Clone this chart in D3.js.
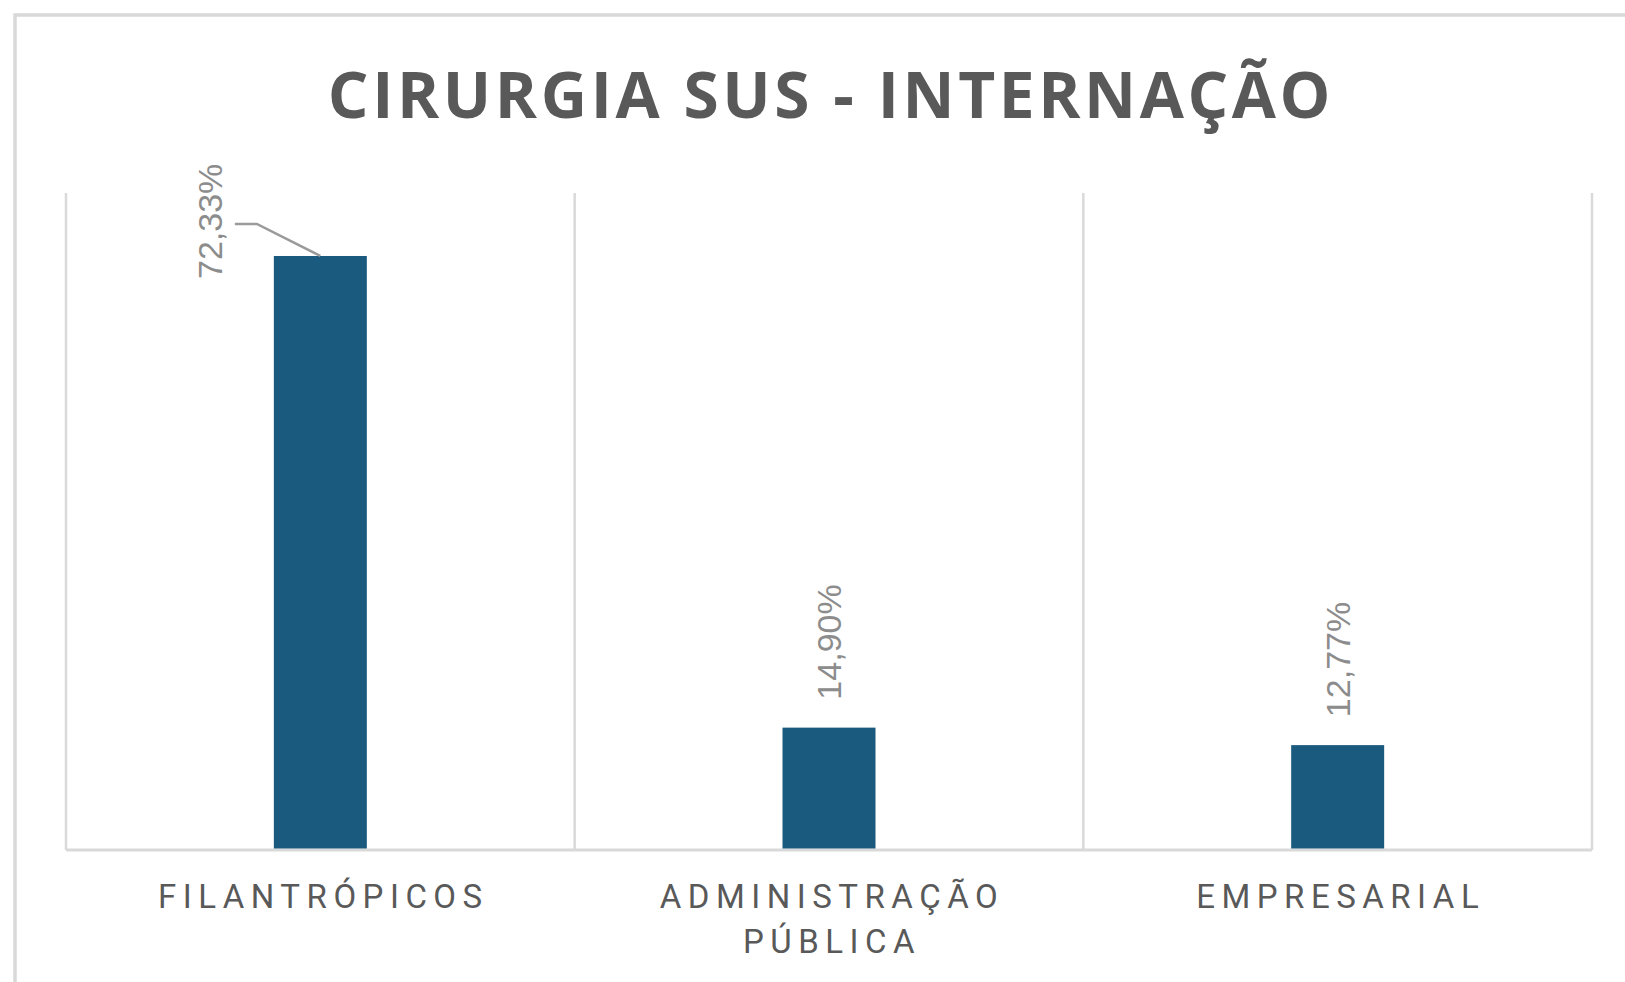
<!DOCTYPE html>
<html>
<head>
<meta charset="utf-8">
<script src="https://cdn.jsdelivr.net/npm/d3@7"></script>
<style>
  body { margin: 0; background: #fff; }
  svg { display: block; }
</style>
</head>
<body>
<svg></svg>
<script>
const width = 1625;
const height = 982;

// chart data
const title = 'CIRURGIA SUS - INTERNAÇÃO';
const categories = ['FILANTRÓPICOS', 'ADMINISTRAÇÃO PÚBLICA', 'EMPRESARIAL'];
const values = [72.33, 14.90, 12.77];
const yDomain = [0, 80];

const margin = {top: 193, right: 33, bottom: 132, left: 66};

const svg = d3.select('svg')
    .attr('width', width).attr('height', height);

const ptBR = d3.formatLocale({decimal: ',', thousands: '.', grouping: [3], currency: ['R$', '']});
const fmt = v => ptBR.format('.2f')(v) + '%';

const x = d3.scaleBand()
    .domain(categories)
    .range([margin.left, width - margin.right]);

const y = d3.scaleLinear()
    .domain(yDomain)
    .range([height - margin.bottom, margin.top]);

const barWidth = x.bandwidth() / 5.47;
const grey = '#d9d9d9';

drawFrame();
drawTitle();
drawGrid();
drawBars();
drawLabels();
drawCategories();

function drawFrame() {
    // chart border, right and bottom edges run off the picture
    svg.append('rect')
        .attr('x', 15).attr('y', 15)
        .attr('width', width).attr('height', height)
        .style('fill', '#fff')
        .style('stroke', grey)
        .style('stroke-width', 3.5);
}

function drawTitle() {
    svg.append('text')
        .attr('x', (x.range()[0] + x.range()[1]) / 2 + 2)
        .attr('y', 118)
        .attr('text-anchor', 'middle')
        .style('font-family', '"Open Sans", sans-serif')
        .style('font-weight', 700)
        .style('font-size', '64px')
        .style('letter-spacing', '3.6px')
        .style('fill', '#595959')
        .text(title);
}

function drawGrid() {
    // vertical separators between categories
    const edges = categories.map(c => x(c)).concat([x.range()[1]]);
    svg.append('g').selectAll('line')
        .data(edges)
        .enter().append('line')
        .attr('x1', d => d).attr('x2', d => d)
        .attr('y1', y.range()[1]).attr('y2', y(0))
        .style('stroke', grey)
        .style('stroke-width', 2.5);

    svg.append('line')
        .attr('x1', x.range()[0]).attr('x2', x.range()[1])
        .attr('y1', y(0)).attr('y2', y(0))
        .style('stroke', grey)
        .style('stroke-width', 3);
}

function drawBars() {
    svg.append('g').selectAll('rect')
        .data(values)
        .enter().append('rect')
        .attr('x', (d, i) => x(categories[i]) + x.bandwidth() / 2 - barWidth / 2)
        .attr('y', d => y(d))
        .attr('width', barWidth)
        .attr('height', d => y(0) - y(d) - 1.5)
        .style('fill', '#1a5a7e');
}

function drawLabels() {
    const g = svg.append('g');
    values.forEach((v, i) => {
        const cx = x(categories[i]) + x.bandwidth() / 2;
        const top = y(v);
        let lx = cx, ly = top - 28;
        // label would run past the plot top: move it left of the bar with a leader
        if (ly - 115 < y.range()[1]) {
            lx = cx - barWidth / 2 - 64;
            ly = top + 23;
            const my = ly - 55;
            g.append('path')
                .attr('d', d3.line()([[lx + 25, my], [lx + 47, my], [cx, top]]))
                .style('fill', 'none')
                .style('stroke', '#9a9a9a')
                .style('stroke-width', 2.5);
        }
        g.append('text')
            .attr('transform', `translate(${lx},${ly}) rotate(-90)`)
            .attr('dy', '0.35em')
            .style('font-family', '"Liberation Sans", Arial, sans-serif')
            .style('font-size', '34px')
            .style('fill', '#8c8c8c')
            .text(fmt(v));
    });
}

function drawCategories() {
    const g = svg.append('g');
    categories.forEach(c => {
        const lines = c.length > 16 ? c.split(' ') : [c];
        const t = g.append('text')
            .attr('text-anchor', 'middle')
            .style('font-family', 'Roboto, sans-serif')
            .style('font-size', '33px')
            .style('letter-spacing', '6.5px')
            .style('fill', '#595959');
        lines.forEach((s, j) => {
            t.append('tspan')
                .attr('x', x(c) + x.bandwidth() / 2 + 3)
                .attr('y', 908 + j * 45)
                .text(s);
        });
    });
}
</script>
</body>
</html>
